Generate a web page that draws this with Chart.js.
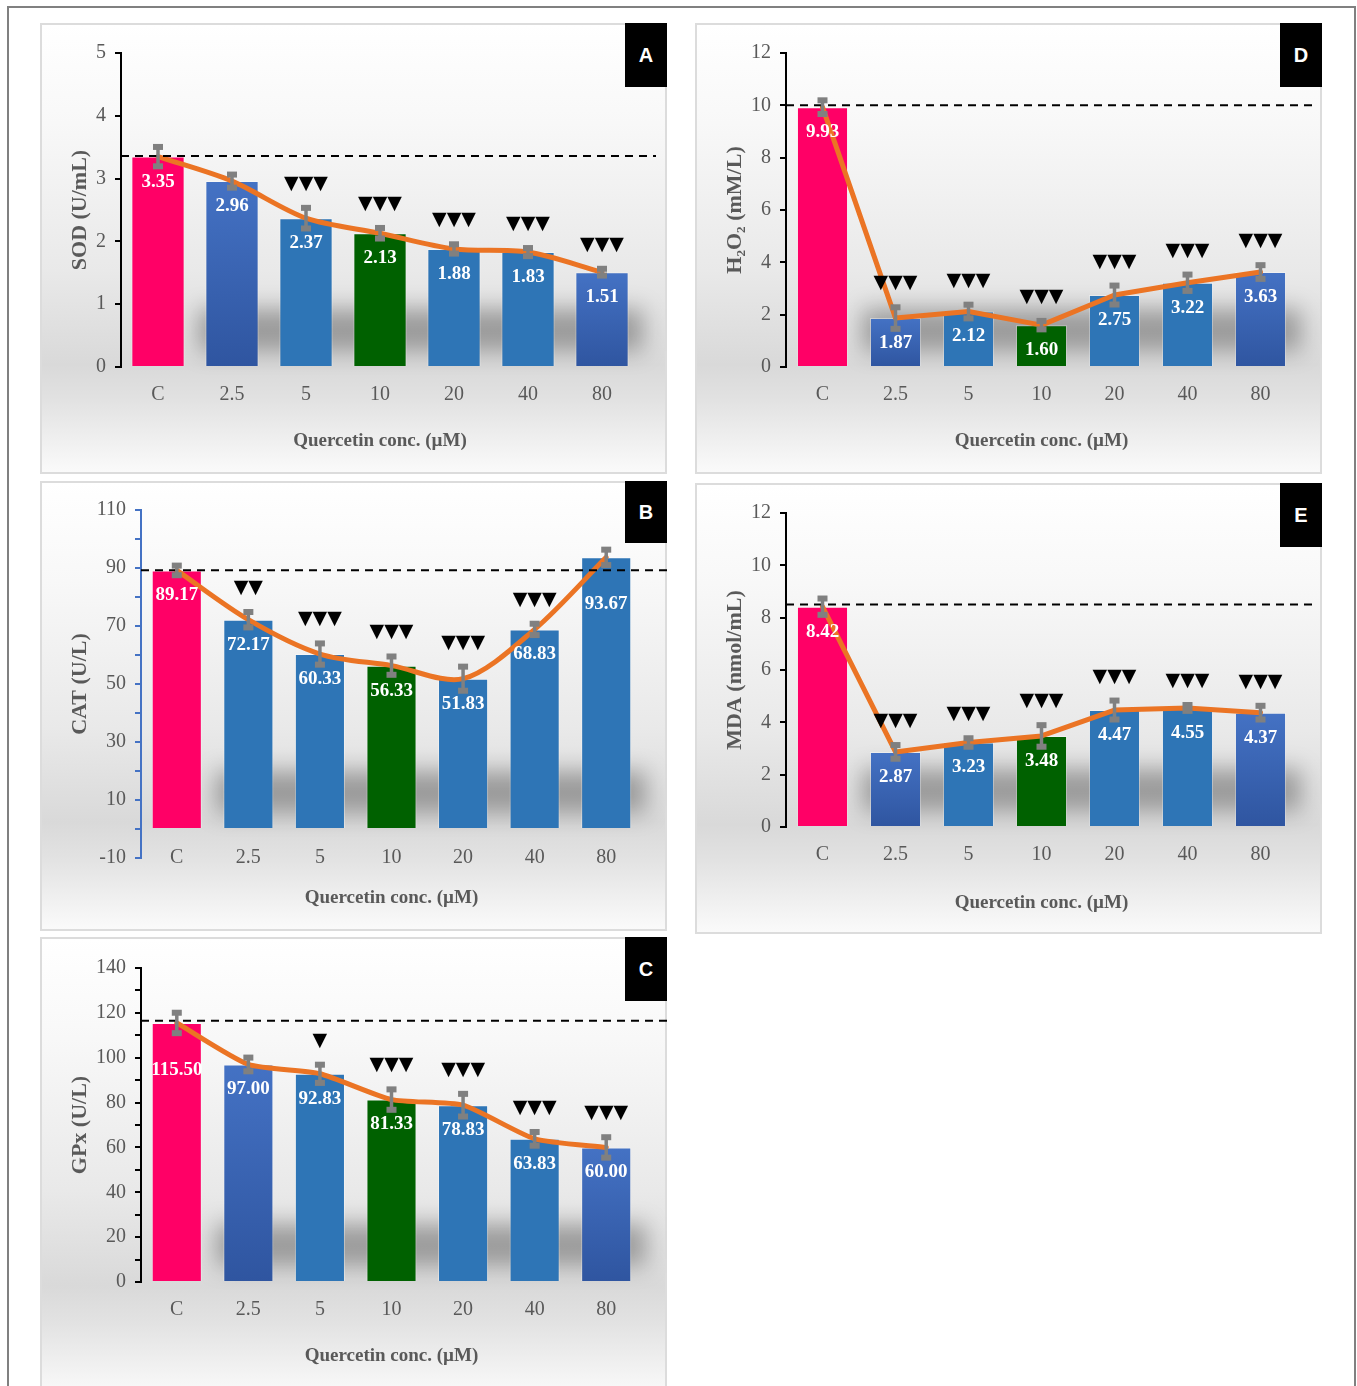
<!DOCTYPE html>
<html>
<head>
<meta charset="utf-8">
<script src="https://cdn.jsdelivr.net/npm/chart.js@4.4.1/dist/chart.umd.min.js"></script>
<style>
  body { margin: 0; background: #fff; width: 1357px; height: 1386px; position: relative; overflow: hidden; }
  #frame { position: absolute; left: 7px; top: 6px; width: 1349px; height: 1400px; border: 2px solid #808080; box-sizing: border-box; }
  .panel { position: absolute; box-sizing: border-box; border: 2px solid #dcdcdc;
    background: linear-gradient(to bottom, #ffffff 0%, #f8f8f8 22%, #e9e9e9 55%, #d9d9d9 76%, #e2e2e2 84%, #fafafa 100%); }
  .panel canvas { position: absolute; left: -2px; top: -2px; }
  .tag { position: absolute; right: -2px; top: -2px; width: 42px; height: 64px; background: #000; color: #fff;
    font: bold 20px 'Liberation Sans', Arial, sans-serif; display: flex; align-items: center; justify-content: center; }
</style>
</head>
<body>
<div id="frame"></div>

<div class="panel" style="left:40px;top:23px;width:627px;height:451px"><canvas id="chart-sod" width="627" height="451"></canvas><div class="tag">A</div></div>
<div class="panel" style="left:695px;top:23px;width:627px;height:451px"><canvas id="chart-h2o2" width="627" height="451"></canvas><div class="tag">D</div></div>
<div class="panel" style="left:40px;top:481px;width:627px;height:450px"><canvas id="chart-cat" width="627" height="450"></canvas><div class="tag" style="height:62px">B</div></div>
<div class="panel" style="left:695px;top:483px;width:627px;height:451px"><canvas id="chart-mda" width="627" height="451"></canvas><div class="tag">E</div></div>
<div class="panel" style="left:40px;top:937px;width:627px;height:460px"><canvas id="chart-gpx" width="627" height="460"></canvas><div class="tag">C</div></div>

<script>
const categories = ['C', '2.5', '5', '10', '20', '40', '80'];

// A - SOD
const sodMean = [3.35, 2.96, 2.37, 2.13, 1.88, 1.83, 1.51];
const sodSd = [0.17, 0.12, 0.18, 0.10, 0.09, 0.08, 0.07];
const sodSig = ['', '', '▼▼▼', '▼▼▼', '▼▼▼', '▼▼▼', '▼▼▼'];
const sodRef = 3.36;
const sodTicks = [0, 1, 2, 3, 4, 5];

// D - H2O2
const h2o2Mean = [9.93, 1.87, 2.12, 1.60, 2.75, 3.22, 3.63];
const h2o2Sd = [0.30, 0.45, 0.30, 0.20, 0.40, 0.35, 0.30];
const h2o2Sig = ['', '▼▼▼', '▼▼▼', '▼▼▼', '▼▼▼', '▼▼▼', '▼▼▼'];
const h2o2Ref = 10.0;
const h2o2Ticks = [0, 2, 4, 6, 8, 10, 12];

// B - CAT
const catMean = [89.17, 72.17, 60.33, 56.33, 51.83, 68.83, 93.67];
const catSd = [2.0, 3.0, 4.0, 3.5, 4.5, 2.3, 3.0];
const catSig = ['', '▼▼', '▼▼▼', '▼▼▼', '▼▼▼', '▼▼▼', ''];
const catRef = 89.2;
const catTicks = [-10, 10, 30, 50, 70, 90, 110];

// E - MDA
const mdaMean = [8.42, 2.87, 3.23, 3.48, 4.47, 4.55, 4.37];
const mdaSd = [0.35, 0.30, 0.20, 0.45, 0.40, 0.15, 0.30];
const mdaSig = ['', '▼▼▼', '▼▼▼', '▼▼▼', '▼▼▼', '▼▼▼', '▼▼▼'];
const mdaRef = 8.5;
const mdaTicks = [0, 2, 4, 6, 8, 10, 12];

// C - GPx
const gpxMean = [115.50, 97.00, 92.83, 81.33, 78.83, 63.83, 60.00];
const gpxSd = [5.0, 3.5, 4.5, 5.0, 5.5, 3.5, 5.0];
const gpxSig = ['', '', '▼', '▼▼▼', '▼▼▼', '▼▼▼', '▼▼▼'];
const gpxRef = 116.5;
const gpxTicks = [0, 20, 40, 60, 80, 100, 120, 140];

const SERIF = "'Liberation Serif', 'Times New Roman', serif";
const GREY_TEXT = '#595959';
const PALETTE = { pink: '#FF0066', blue: '#2E75B6', green: '#006100' };

// soft floor shadow behind the bars, then dashed control line, error bars, labels, markers
const extras = {
  id: 'extras',
  beforeDatasetsDraw(chart, args, o) {
    const { ctx, chartArea, scales: { x, y } } = chart;
    const base = y.getPixelForValue(0);
    const step = x.getPixelForValue(1) - x.getPixelForValue(0);
    const x0 = x.getPixelForValue(1) - step * 0.45;
    ctx.save();
    ctx.filter = 'blur(11px)';
    ctx.fillStyle = 'rgba(0,0,0,0.30)';
    ctx.fillRect(x0, base - 58, chartArea.right + 4 - x0, 42);
    ctx.restore();
  },
  afterDatasetsDraw(chart, args, o) {
    const { ctx, chartArea, scales: { x, y } } = chart;
    const meta = chart.getDatasetMeta(1);

    ctx.save();
    const yr = y.getPixelForValue(o.ref);
    ctx.strokeStyle = '#000';
    ctx.lineWidth = 2;
    ctx.setLineDash([8, 6]);
    ctx.beginPath();
    ctx.moveTo(chartArea.left, yr);
    ctx.lineTo(o.dashEnd, yr);
    ctx.stroke();
    ctx.setLineDash([]);

    ctx.textAlign = 'center';
    ctx.textBaseline = 'middle';
    meta.data.forEach((bar, i) => {
      const cx = bar.x;
      const yTop = y.getPixelForValue(o.means[i] + o.sds[i]);
      const yBot = y.getPixelForValue(o.means[i] - o.sds[i]);
      ctx.strokeStyle = '#808080';
      ctx.lineWidth = 3.5;
      ctx.beginPath();
      ctx.moveTo(cx, yTop);
      ctx.lineTo(cx, yBot);
      ctx.stroke();
      ctx.fillStyle = '#808080';
      ctx.fillRect(cx - 5, yTop - 2, 10, 6);
      ctx.fillRect(cx - 5, yBot - 4, 10, 6);

      ctx.fillStyle = '#fff';
      ctx.font = `bold 19px ${SERIF}`;
      ctx.fillText(o.means[i].toFixed(2), cx, bar.y + 25 + ((o.labelDrop || {})[i] || 0));

      if (o.sig[i]) {
        ctx.fillStyle = '#000';
        ctx.font = "19px 'DejaVu Sans', sans-serif";
        ctx.fillText(o.sig[i], cx, yTop - 23);
      }
    });

    // category labels sitting at the bottom of the plot (panel B)
    if (o.innerLabels) {
      ctx.fillStyle = GREY_TEXT;
      ctx.font = `20px ${SERIF}`;
      categories.forEach((c, i) => ctx.fillText(c, x.getPixelForValue(i), chartArea.bottom));
    }
    ctx.restore();
  }
};

function renderPanel(p) {
  const tickSet = p.ticks;
  const step = p.minorStep || (tickSet[1] - tickSet[0]);
  new Chart(document.getElementById(p.id), {
    type: 'bar',
    data: {
      labels: categories,
      datasets: [
        {
          type: 'line', data: p.means, borderColor: '#EB7424', borderWidth: 5,
          pointRadius: 0, tension: p.tension, borderJoinStyle: 'round', borderCapStyle: 'round', order: 0
        },
        {
          data: p.means, order: 1,
          barPercentage: p.barPct, categoryPercentage: 1,
          borderWidth: 1, borderColor: 'rgba(255,255,255,0.35)',
          backgroundColor: c => {
            const kind = p.colors[c.dataIndex];
            if (kind !== 'grad') return PALETTE[kind];
            const { chart } = c;
            if (!chart.chartArea) return PALETTE.blue;
            const ys = chart.scales.y;
            const g = chart.ctx.createLinearGradient(0, ys.getPixelForValue(p.means[c.dataIndex]), 0, ys.getPixelForValue(0));
            g.addColorStop(0, '#4472C4');
            g.addColorStop(1, '#2F55A0');
            return g;
          }
        }
      ]
    },
    options: {
      responsive: false, animation: false,
      layout: { padding: { left: 0, top: p.top, right: p.right, bottom: 0 } },
      plugins: {
        legend: { display: false }, tooltip: { enabled: false },
        extras: { means: p.means, sds: p.sds, sig: p.sig, ref: p.ref, dashEnd: p.dashEnd,
                  labelDrop: p.labelDrop, innerLabels: p.innerLabels }
      },
      scales: {
        x: {
          grid: { display: false, drawTicks: false },
          border: { display: false },
          ticks: { display: !p.innerLabels, color: GREY_TEXT, font: { family: SERIF, size: 20 }, padding: 16 },
          title: {
            display: true, text: 'Quercetin conc. (µM)', color: GREY_TEXT,
            font: { family: SERIF, size: 19, weight: 'bold' }, padding: { top: 0, bottom: p.xTitlePad }
          },
          afterFit: s => { s.height = p.xAxisH; }
        },
        y: {
          min: tickSet[0], max: tickSet[tickSet.length - 1],
          ticks: {
            stepSize: step, autoSkip: false, color: GREY_TEXT, font: { family: SERIF, size: 20 }, padding: 9,
            callback: v => tickSet.includes(Math.round(v * 1000) / 1000) ? v : ''
          },
          grid: { drawOnChartArea: false, drawTicks: true, tickLength: 6, color: p.axisColor, lineWidth: 2 },
          border: { display: true, color: p.axisColor, width: 2 },
          title: {
            display: true, text: p.yTitle, color: GREY_TEXT,
            font: { family: SERIF, size: 22, weight: 'bold' }, padding: { top: 27, bottom: 0 }
          },
          afterFit: s => { s.width = p.yAxisW; }
        }
      }
    },
    plugins: [extras]
  });
}

renderPanel({
  id: 'chart-sod', means: sodMean, sds: sodSd, sig: sodSig, ref: sodRef, ticks: sodTicks,
  yTitle: 'SOD (U/mL)', colors: ['pink', 'grad', 'blue', 'green', 'blue', 'blue', 'grad'],
  tension: 0.3, barPct: 0.72, top: 30, right: 28, yAxisW: 81, xAxisH: 107, xTitlePad: 22,
  axisColor: '#000', dashEnd: 616
});
renderPanel({
  id: 'chart-h2o2', means: h2o2Mean, sds: h2o2Sd, sig: h2o2Sig, ref: h2o2Ref, ticks: h2o2Ticks,
  yTitle: 'H₂O₂ (mM/L)', colors: ['pink', 'grad', 'blue', 'green', 'blue', 'blue', 'grad'],
  tension: 0, barPct: 0.70, top: 30, right: 25, yAxisW: 91, xAxisH: 107, xTitlePad: 22,
  axisColor: '#000', dashEnd: 621
});
renderPanel({
  id: 'chart-cat', means: catMean, sds: catSd, sig: catSig, ref: catRef, ticks: catTicks, minorStep: 10,
  yTitle: 'CAT (U/L)', colors: ['pink', 'blue', 'blue', 'green', 'blue', 'blue', 'blue'],
  tension: 0.3, barPct: 0.70, top: 29, right: 25, yAxisW: 101, xAxisH: 73, xTitlePad: 22,
  axisColor: '#4472C4', dashEnd: 627, labelDrop: { 6: 22 }, innerLabels: true
});
renderPanel({
  id: 'chart-mda', means: mdaMean, sds: mdaSd, sig: mdaSig, ref: mdaRef, ticks: mdaTicks,
  yTitle: 'MDA (nmol/mL)', colors: ['pink', 'grad', 'blue', 'green', 'blue', 'blue', 'grad'],
  tension: 0, barPct: 0.70, top: 30, right: 25, yAxisW: 91, xAxisH: 107, xTitlePad: 20,
  axisColor: '#000', dashEnd: 621
});
renderPanel({
  id: 'chart-gpx', means: gpxMean, sds: gpxSd, sig: gpxSig, ref: gpxRef, ticks: gpxTicks, minorStep: 10,
  yTitle: 'GPx (U/L)', colors: ['pink', 'grad', 'blue', 'green', 'blue', 'blue', 'grad'],
  tension: 0.2, barPct: 0.70, top: 31, right: 25, yAxisW: 101, xAxisH: 115, xTitlePad: 30,
  axisColor: '#000', dashEnd: 627, labelDrop: { 0: 22 }
});
</script>
</body>
</html>
